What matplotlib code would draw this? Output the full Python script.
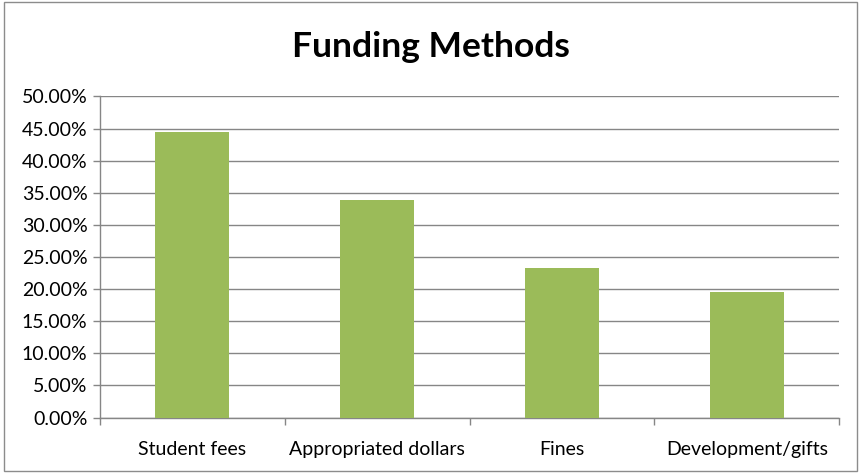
import matplotlib
matplotlib.use("Agg")
import matplotlib.pyplot as plt
from matplotlib.patches import Rectangle
from matplotlib.ticker import FuncFormatter, MultipleLocator

categories = ["Student fees", "Appropriated dollars", "Fines", "Development/gifts"]
shares = [0.444, 0.339, 0.233, 0.1955]

plt.rcParams["font.family"] = ["Lato", "DejaVu Sans"]

fig = plt.figure(figsize=(8.61, 4.73), dpi=100)
ax = fig.add_axes([0.1161, 0.1173, 0.8587, 0.6787])

# chart frame
fig.patches.append(Rectangle((0.005, 0.004), 0.99, 0.992, transform=fig.transFigure,
                             fill=False, edgecolor="#8c8c8c", linewidth=1.0))

x = range(len(categories))
ax.bar(x, shares, width=0.4, color="#9BBB59", zorder=3)

ax.set_xlim(-0.5, len(categories) - 0.5)
ax.set_ylim(0, 0.5)
ax.yaxis.set_major_locator(MultipleLocator(0.05))
ax.yaxis.set_major_formatter(FuncFormatter(lambda v, _: f"{v * 100:.2f}%"))
ax.grid(axis="y", color="#868686", linewidth=1.0, zorder=0)

ax.set_xticks(list(x))
ax.set_xticklabels(categories)
ax.set_xticks([i - 0.5 for i in range(len(categories) + 1)], minor=True)
ax.tick_params(axis="x", which="major", length=0, pad=17, labelsize=14)
ax.tick_params(axis="x", which="minor", length=5, color="#868686", width=1)
ax.tick_params(axis="y", length=5, color="#868686", width=1, labelsize=14, pad=4)

for side in ["top", "right"]:
    ax.spines[side].set_visible(False)
for side in ["left", "bottom"]:
    ax.spines[side].set_color("#868686")
    ax.spines[side].set_linewidth(1.0)

fig.text(0.5, 0.9, "Funding Methods", ha="center", va="center",
         fontsize=25.5, fontweight="bold")

fig.savefig("out.png", dpi=100)
